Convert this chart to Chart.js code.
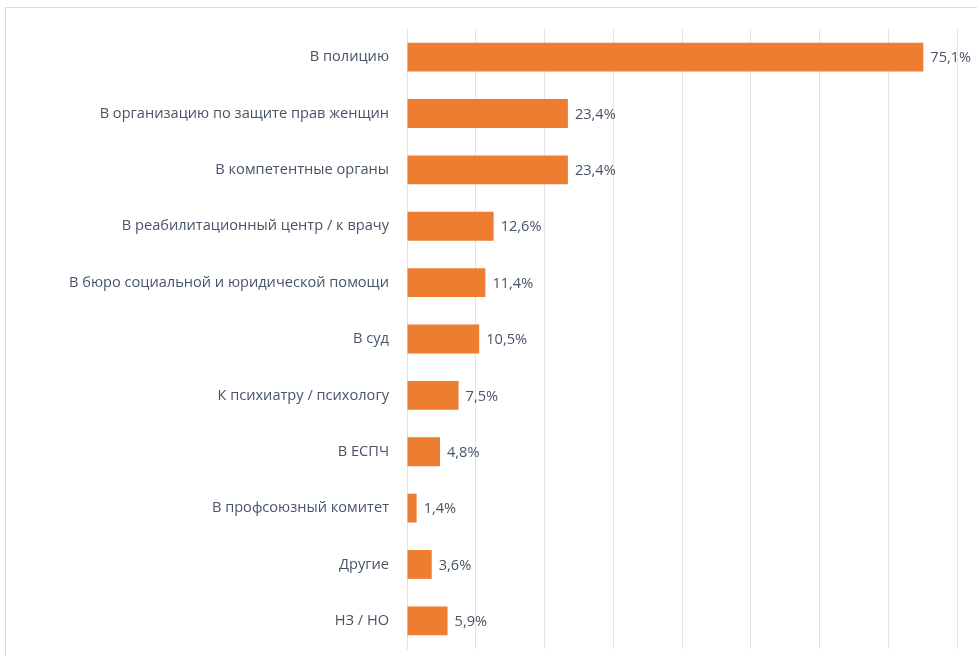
<!DOCTYPE html>
<html>
<head>
<meta charset="utf-8">
<script src="https://cdn.jsdelivr.net/npm/chart.js@4"></script>
<style>
html,body{margin:0;padding:0;background:#fff;}
#wrap{position:absolute;left:0;top:0;width:977px;height:656px;}
</style>
</head>
<body>
<div id="wrap"><canvas id="c" width="977" height="656"></canvas></div>
<script>
const categories = [
  "В полицию",
  "В организацию по защите прав женщин",
  "В компетентные органы",
  "В реабилитационный центр / к врачу",
  "В бюро социальной и юридической помощи",
  "В суд",
  "К психиатру / психологу",
  "В ЕСПЧ",
  "В профсоюзный комитет",
  "Другие",
  "НЗ / НО"
];
const values = [75.1, 23.4, 23.4, 12.6, 11.4, 10.5, 7.5, 4.8, 1.4, 3.6, 5.9];
const xMax = 80;
const xStep = 10;

const TEXT_COLOR = '#475468';
const FONT_FAMILY = '"Open Sans", "Noto Sans", sans-serif';
const FONT_SIZE = 14.6;

const fmt = v => v.toFixed(1).replace('.', ',') + '%';

const framePlugin = {
  id: 'frame',
  beforeDraw(chart) {
    const ctx = chart.ctx;
    ctx.save();
    ctx.strokeStyle = '#d9d9e0';
    ctx.lineWidth = 1;
    ctx.strokeRect(5.5, 7.5, 1100, 800);
    ctx.restore();
  }
};

const valueLabels = {
  id: 'valueLabels',
  afterDatasetsDraw(chart) {
    const ctx = chart.ctx;
    const meta = chart.getDatasetMeta(0);
    ctx.save();
    ctx.fillStyle = TEXT_COLOR;
    ctx.font = FONT_SIZE + 'px ' + FONT_FAMILY;
    ctx.textAlign = 'left';
    ctx.textBaseline = 'middle';
    meta.data.forEach((bar, i) => {
      ctx.fillText(fmt(values[i]), bar.x + 7, bar.y + 1);
    });
    ctx.restore();
  }
};

new Chart(document.getElementById('c'), {
  type: 'bar',
  data: {
    labels: categories,
    datasets: [{
      data: values,
      backgroundColor: '#ED7D31',
      borderWidth: 0,
      categoryPercentage: 0.8,
      barPercentage: 0.64
    }]
  },
  options: {
    indexAxis: 'y',
    responsive: false,
    animation: false,
    events: [],
    layout: { padding: { left: 0, top: 29, right: 20, bottom: 7 } },
    plugins: { legend: { display: false }, tooltip: { enabled: false } },
    scales: {
      x: {
        min: 0, max: xMax,
        ticks: { display: false, stepSize: xStep },
        grid: { color: '#dfe2ea', lineWidth: 1, drawTicks: false },
        border: { display: false },
        afterFit(scale) { scale.height = 0; }
      },
      y: {
        ticks: {
          color: TEXT_COLOR,
          font: { family: FONT_FAMILY, size: FONT_SIZE },
          padding: 18
        },
        grid: { display: false, drawTicks: false },
        border: { display: true, color: '#dfe2ea' },
        afterFit(scale) {
          scale.width = 407;
          scale.paddingTop = 0;
          scale.paddingBottom = 0;
        }
      }
    }
  },
  plugins: [framePlugin, valueLabels]
});
</script>
</body>
</html>
